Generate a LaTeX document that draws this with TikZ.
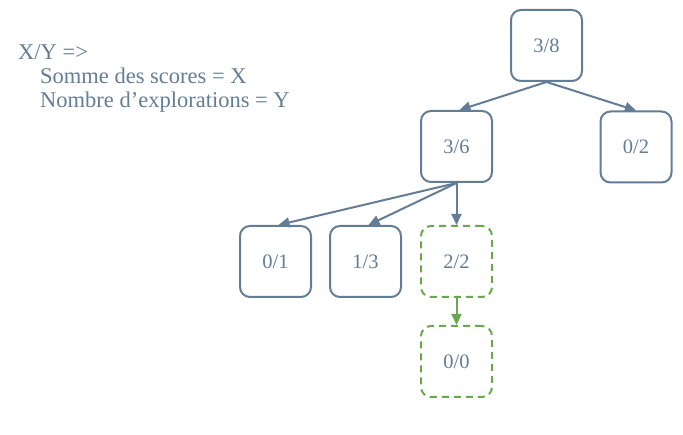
\documentclass[tikz,border=0pt]{standalone}
\usepackage{fontspec}
\setmainfont{Liberation Serif}
\usetikzlibrary{arrows.meta}
\definecolor{slate}{HTML}{647D96}
\definecolor{grn}{HTML}{6AA84F}
\begin{document}
\begin{tikzpicture}[x=1pt,y=-1pt,
  box/.style={draw=slate,line width=2pt,rounded corners=10pt,minimum width=71pt,minimum height=71pt,inner sep=0pt,text=slate,font=\fontsize{20.5}{24}\selectfont},
  gbox/.style={box,draw=grn,dashed,dash pattern=on 7pt off 5pt},
  conn/.style={draw=slate,line width=2pt,-{Triangle[width=10pt,length=11pt]}},
  gconn/.style={conn,draw=grn,-{Triangle[width=10pt,length=11pt,fill=grn]}},
  lbl/.style={anchor=base west,inner sep=0pt,text=slate,font=\fontsize{22.5}{24}\selectfont}]
\useasboundingbox (0,0) rectangle (683,435);
\node[box] (r) at (546.5,45.5) {3/8};
\node[box] (a) at (456.5,146.5) {3/6};
\node[box] (b) at (636,147) {0/2};
\node[box] (c) at (275.5,261.5) {0/1};
\node[box] (d) at (365.5,261.5) {1/3};
\node[gbox] (e) at (456.5,261.5) {2/2};
\node[gbox] (f) at (456.5,361.5) {0/0};
\draw[conn] (r.south) -- ([xshift=3pt]a.north);
\draw[conn] (r.south) -- (b.north);
\draw[conn] (a.south) -- ([xshift=3pt]c.north);
\draw[conn] (a.south) -- ([xshift=3pt]d.north);
\draw[conn] (a.south) -- (e.north);
\draw[gconn] (e.south) -- (f.north);
\node[lbl] (t1) at (18,60) {X/Y =>};
\node[lbl] (t2) at (40,84) {Somme des scores = X};
\node[lbl] (t3) at (40,108) {Nombre d’explorations = Y};
\end{tikzpicture}
\end{document}
